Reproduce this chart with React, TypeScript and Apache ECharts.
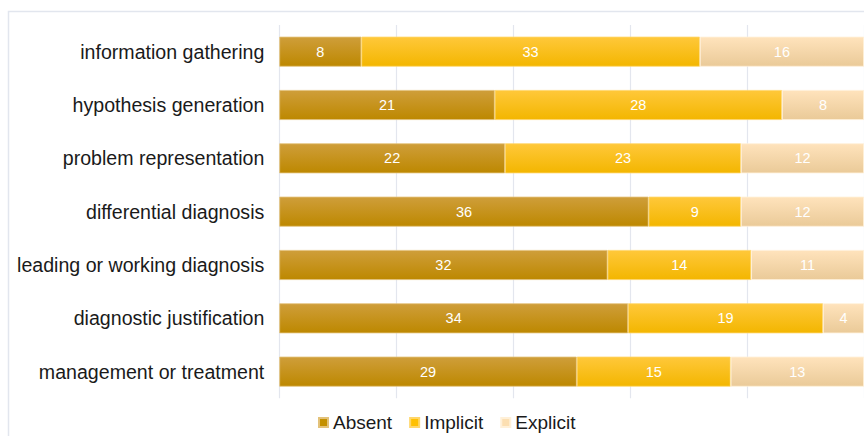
import React, { useEffect, useRef } from "react";
import * as echarts from "echarts";

// Reasoning stages, top to bottom
const categories = [
  "information gathering",
  "hypothesis generation",
  "problem representation",
  "differential diagnosis",
  "leading or working diagnosis",
  "diagnostic justification",
  "management or treatment",
];

const absent = [8, 21, 22, 36, 32, 34, 29];
const implicit = [33, 28, 23, 9, 14, 19, 15];
const explicit = [16, 8, 12, 12, 11, 4, 13];

const seriesNames = ["Absent", "Implicit", "Explicit"];

// Every row sums to the same number of cases
const total = absent[0] + implicit[0] + explicit[0];

const FONT = "'Liberation Sans', Arial, Helvetica, sans-serif";

function grad(top: string, bottom: string) {
  return new echarts.graphic.LinearGradient(0, 0, 0, 1, [
    { offset: 0, color: top },
    { offset: 1, color: bottom },
  ]);
}

const fills = [
  { fill: grad("#CF9E3A", "#BD8800"), edge: "#E3C27A", legend: "#C49000" },
  { fill: grad("#FFC83A", "#F3B600"), edge: "#FFD66A", legend: "#FFC000" },
  { fill: grad("#FFE3BC", "#EACA98"), edge: "#FFF0D8", legend: "#FCDFB2" },
];

export default function App() {
  const ref = useRef<HTMLDivElement>(null);

  useEffect(() => {
    if (!ref.current) return;
    const chart = echarts.init(ref.current, null, { renderer: "svg" });
    const values = [absent, implicit, explicit];

    chart.setOption({
      animation: false,
      backgroundColor: "#ffffff",
      textStyle: { fontFamily: FONT },
      graphic: [
        {
          type: "rect",
          shape: { x: 8.5, y: 11.5, width: 900, height: 500 },
          style: { fill: "none", stroke: "#E2E6EE", lineWidth: 1.5 },
          silent: true,
          z: -1,
        },
      ],
      grid: { left: 279.3, top: 25, width: 586.5, height: 373.3 },
      xAxis: {
        type: "value",
        min: 0,
        max: total,
        interval: total / 5,
        axisLabel: { show: false },
        axisLine: { show: false },
        axisTick: { show: false },
        splitLine: { lineStyle: { color: "#E3E6EE", width: 1.2 } },
      },
      yAxis: {
        type: "category",
        data: categories,
        inverse: true,
        axisLine: { show: false },
        axisTick: { show: false },
        axisLabel: {
          color: "#1a1a1a",
          fontSize: 19.6,
          fontFamily: FONT,
          margin: 15,
        },
      },
      legend: {
        data: seriesNames.map((n, i) => ({
          name: n,
          itemStyle: { color: fills[i].legend },
        })),
        left: 318,
        top: 413,
        padding: 0,
        icon: "rect",
        itemWidth: 9,
        itemHeight: 9,
        itemGap: 17,
        textStyle: { color: "#1a1a1a", fontSize: 19, fontFamily: FONT },
      },
      series: seriesNames.map((name, i) => ({
        name,
        type: "bar",
        stack: "total",
        barWidth: 30,
        data: values[i],
        itemStyle: {
          color: fills[i].fill,
          borderColor: fills[i].edge,
          borderWidth: 0.8,
        },
        label: {
          show: true,
          position: "inside",
          color: "#ffffff",
          fontSize: 14.5,
          fontFamily: FONT,
        },
      })),
    });

    return () => chart.dispose();
  }, []);

  return (
    <div
      ref={ref}
      style={{ position: "fixed", left: 0, top: 0, width: 864, height: 436 }}
    />
  );
}
